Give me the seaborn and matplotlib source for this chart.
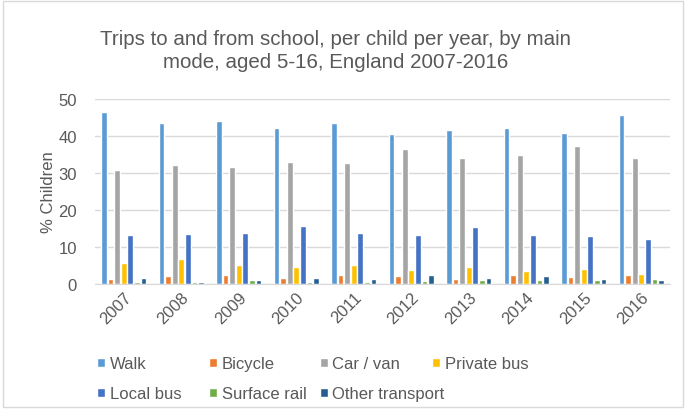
import pandas as pd
import seaborn as sns
import matplotlib.pyplot as plt
from matplotlib.patches import Rectangle

# Trips to and from school by main mode (% of children)
years = ['2007', '2008', '2009', '2010', '2011', '2012', '2013', '2014', '2015', '2016']
modes = ['Walk', 'Bicycle', 'Car / van', 'Private bus', 'Local bus', 'Surface rail', 'Other transport']

walk = [46.4, 43.5, 44.0, 42.2, 43.5, 40.5, 41.5, 42.2, 40.8, 45.7]
bicycle = [1.4, 2.1, 2.3, 1.6, 2.3, 2.1, 1.4, 2.3, 1.9, 2.3]
car_van = [30.8, 32.2, 31.5, 33.0, 32.7, 36.4, 34.0, 34.9, 37.3, 34.0]
private_bus = [5.8, 6.8, 5.2, 4.7, 5.2, 3.8, 4.5, 3.5, 4.1, 2.7]
local_bus = [13.2, 13.5, 13.8, 15.7, 13.8, 13.3, 15.4, 13.3, 13.1, 12.1]
surface_rail = [0.6, 0.6, 1.1, 0.6, 0.6, 0.8, 1.1, 1.1, 1.1, 1.4]
other_transport = [1.5, 0.6, 1.1, 1.6, 1.4, 2.4, 1.6, 2.1, 1.4, 1.1]

colors = ['#5B9BD5', '#ED7D31', '#A5A5A5', '#FFC000', '#4472C4', '#70AD47', '#255E91']

series = [walk, bicycle, car_van, private_bus, local_bus, surface_rail, other_transport]
rows = []
for mode, vals in zip(modes, series):
    for y, v in zip(years, vals):
        rows.append({'Year': y, 'Mode': mode, 'Value': v})
df = pd.DataFrame(rows)

sns.set_style('white')
plt.rcParams['font.family'] = ['Liberation Sans', 'DejaVu Sans']

W, H = 686, 410
fig = plt.figure(figsize=(W / 100, H / 100), dpi=100)
ax = fig.add_axes([95 / W, 1 - 285 / H, 575 / W, 185 / H])

sns.barplot(data=df, x='Year', y='Value', hue='Mode', hue_order=modes, order=years,
            palette=colors, saturation=1, width=0.8, gap=0.12, ax=ax, legend=True)

ax.set_ylim(0, 50)
ax.set_yticks(range(0, 51, 10))
ax.yaxis.grid(True, color='#D9D9D9', linewidth=1)
ax.set_axisbelow(True)
for s in ['top', 'right', 'left']:
    ax.spines[s].set_visible(False)
ax.spines['bottom'].set_color('#D9D9D9')
ax.tick_params(axis='both', length=0, labelsize=12, colors='#595959')
ax.tick_params(axis='y', pad=13)
ax.tick_params(axis='x', pad=4)
plt.setp(ax.get_xticklabels(), rotation=45, ha='right', rotation_mode='anchor')
ax.set_xlabel('')
ax.set_ylabel('% Children', fontsize=12, color='#595959', labelpad=2)

fig.suptitle('Trips to and from school, per child per year, by main\nmode, aged 5-16, England 2007-2016',
             fontsize=14.8, color='#595959', x=336 / W, y=1 - 30 / H, va='top', linespacing=1.3)

# legend laid out like the original: 4 equal columns, 2 rows
handles, labels = ax.get_legend_handles_labels()
ax.legend_.remove()
col_x = [97, 209, 320, 432]
row_y = [365, 395]
for i, (h, lab) in enumerate(zip(handles, labels)):
    r, c = divmod(i, 4)
    leg = fig.legend([h], [lab], loc='center left',
                     bbox_to_anchor=(col_x[c] / W, 1 - row_y[r] / H),
                     frameon=False, fontsize=12, labelcolor='#595959', handlelength=0.5,
                     handleheight=0.5, handletextpad=0.25, borderaxespad=0, borderpad=0)

fig.patches.append(Rectangle((0.004, 0.004), 0.992, 0.992, transform=fig.transFigure,
                             fill=False, edgecolor='#D9D9D9', linewidth=1))

fig.savefig('out.png', dpi=100)
